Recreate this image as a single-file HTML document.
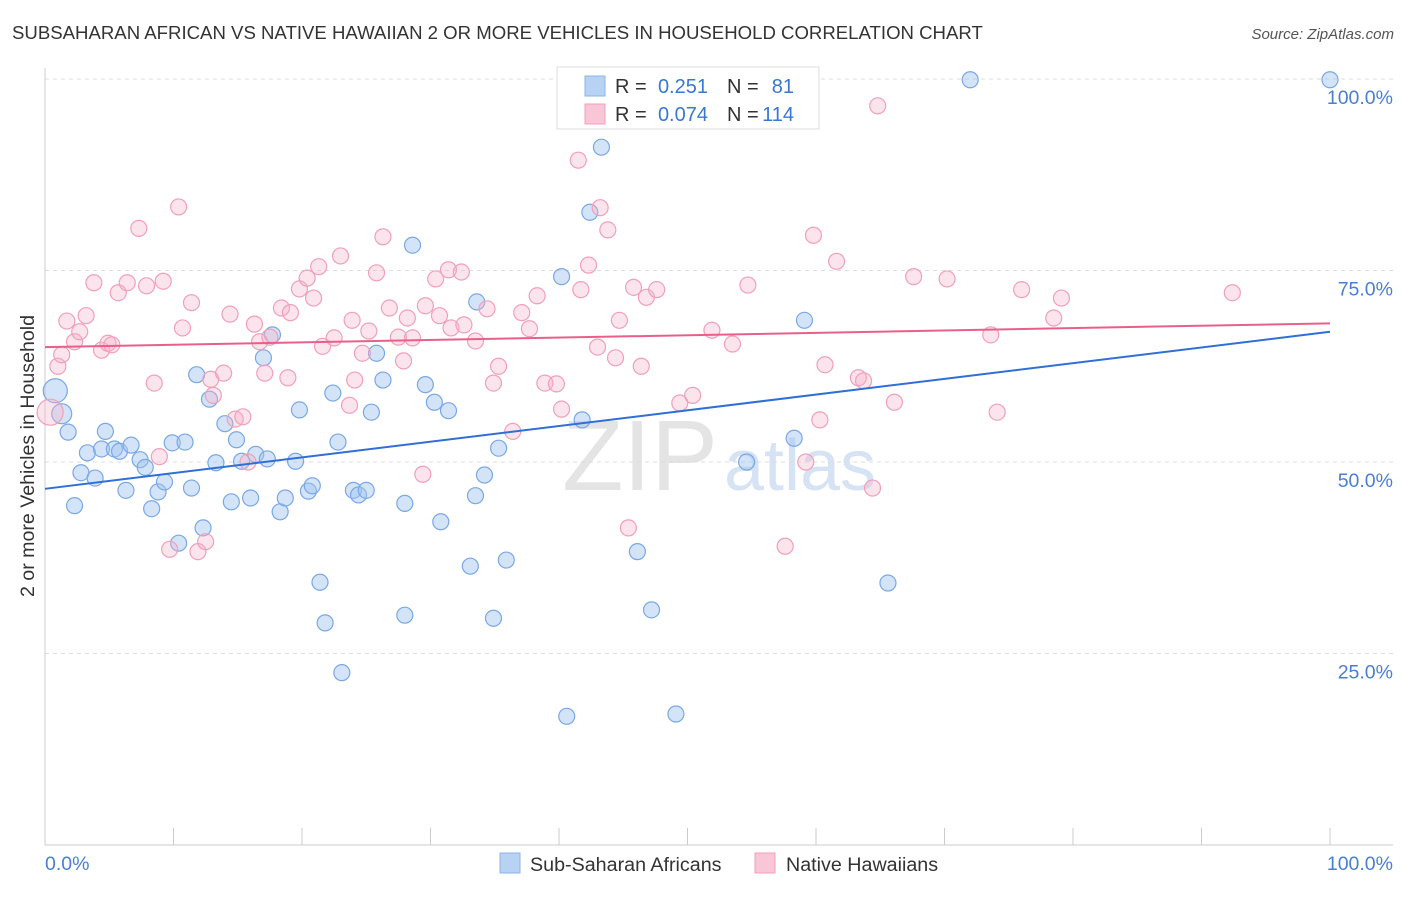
<!DOCTYPE html>
<html><head><meta charset="utf-8"><style>
body{margin:0;background:#fff;font-family:"Liberation Sans",sans-serif;}
svg text{font-family:"Liberation Sans",sans-serif;}
</style></head><body>
<svg id="chart" width="1406" height="892">
<text x="12" y="39" font-size="18.6" fill="#333">SUBSAHARAN AFRICAN VS NATIVE HAWAIIAN 2 OR MORE VEHICLES IN HOUSEHOLD CORRELATION CHART</text>
<text x="1394" y="39" font-size="15" fill="#555" font-style="italic" text-anchor="end">Source: ZipAtlas.com</text>
<text x="640" y="490" font-size="100" fill="#e4e4e4" font-family="Liberation Serif" text-anchor="middle">ZIP</text>
<text x="800" y="490" font-size="72" fill="#d6e3f4" text-anchor="middle">atlas</text>
<g id="grid"></g><g id="axes"></g><g id="pts"></g><g id="lines"></g>
<text transform="translate(34,456) rotate(-90)" font-size="19.6" fill="#333" text-anchor="middle">2 or more Vehicles in Household</text>
<text x="45" y="870" font-size="19.5" fill="#4a7fd0">0.0%</text>
<text x="1393" y="870" font-size="19.5" fill="#4a7fd0" text-anchor="end">100.0%</text>
<g>
<rect x="557" y="67" width="262" height="62" fill="#fff" stroke="#ddd"/>
<rect x="585" y="76" width="20" height="20" fill="#b8d2f4" stroke="#8ab4e8"/>
<rect x="585" y="104" width="20" height="20" fill="#f8c6d6" stroke="#f0a0b8"/>
<text y="93" font-size="20" fill="#333"><tspan x="615">R =</tspan><tspan x="708" text-anchor="end" fill="#3a78d0">0.251</tspan><tspan x="727">N =</tspan><tspan x="794" text-anchor="end" fill="#3a78d0">81</tspan></text>
<text y="121" font-size="20" fill="#333"><tspan x="615">R =</tspan><tspan x="708" text-anchor="end" fill="#3a78d0">0.074</tspan><tspan x="727">N =</tspan><tspan x="794" text-anchor="end" fill="#3a78d0">114</tspan></text>
</g>
<g>
<rect x="500" y="853" width="20" height="20" fill="#b8d2f4" stroke="#8ab4e8"/>
<text x="530" y="871" font-size="19.7" fill="#333">Sub-Saharan Africans</text>
<rect x="755" y="853" width="20" height="20" fill="#f8c6d6" stroke="#f0a0b8"/>
<text x="786" y="871" font-size="19.7" fill="#333">Native Hawaiians</text>
</g>
</svg>
<script>
const yTicks=[25,50,75,100];
const xTicks=[0,10,20,30,40,50,60,70,80,90,100];
const blueX=[0.8,1.3,1.8,2.3,2.8,3.3,3.9,4.4,4.7,5.4,5.8,6.3,6.7,7.4,7.8,8.3,8.8,9.3,9.9,10.4,10.9,11.4,11.8,12.3,12.8,13.3,14.0,14.5,14.9,15.3,16.0,16.4,17.0,17.3,17.7,18.3,18.7,19.5,19.8,20.5,20.8,21.4,21.8,22.4,22.8,23.1,24.0,24.4,25.0,25.4,25.8,26.3,28.0,28.0,28.6,29.6,30.3,30.8,31.4,33.1,33.5,33.6,34.2,34.9,35.3,35.9,40.2,40.6,41.8,42.4,43.3,46.1,47.2,49.1,54.6,58.3,59.1,65.6,72.0,100];
const blueY=[59.3,56.3,53.9,44.3,48.6,51.2,47.9,51.7,54.0,51.7,51.4,46.3,52.2,50.3,49.3,43.9,46.1,47.4,52.5,39.4,52.6,46.6,61.4,41.4,58.2,49.9,55.0,44.8,52.9,50.1,45.3,51.0,63.6,50.4,66.6,43.5,45.3,50.1,56.8,46.2,46.9,34.3,29.0,59.0,52.6,22.5,46.3,45.7,46.3,56.5,64.2,60.7,44.6,30.0,78.3,60.1,57.8,42.2,56.7,36.4,45.6,70.9,48.3,29.6,51.8,37.2,74.2,16.8,55.5,82.6,91.1,38.3,30.7,17.1,50.0,53.1,68.5,34.2,99.9,99.9];
const pinkX=[0.4,1.0,1.3,1.7,2.3,2.7,3.2,3.8,4.4,4.9,5.2,5.7,6.4,7.3,7.9,8.5,8.9,9.2,9.7,10.4,10.7,11.4,11.9,12.5,12.9,13.1,13.9,14.4,14.8,15.4,15.8,16.3,16.7,17.1,17.5,18.4,18.9,19.1,19.8,20.4,20.9,21.3,21.6,22.5,23.0,23.7,23.9,24.1,24.7,25.2,25.8,26.3,26.8,27.5,27.9,28.2,28.6,29.4,29.6,30.4,30.7,31.4,31.6,32.4,32.6,33.5,34.4,34.9,35.3,36.4,37.1,37.7,38.3,38.9,39.8,40.2,41.5,41.7,42.3,43.0,43.2,43.8,44.4,44.7,45.4,45.8,46.4,46.8,47.6,49.4,50.4,51.9,53.5,54.7,57.6,59.2,59.8,60.3,60.7,61.6,63.3,63.7,64.4,64.8,66.1,67.6,70.2,73.6,74.1,76.0,78.5,79.1,92.4];
const pinkY=[56.5,62.5,64.0,68.4,65.7,67.0,69.1,73.4,64.6,65.5,65.3,72.1,73.4,80.5,73.0,60.3,50.7,73.6,38.6,83.3,67.5,70.8,38.3,39.6,60.8,58.7,61.6,69.3,55.6,55.9,50.0,68.0,65.7,61.6,66.3,70.1,61.0,69.5,72.6,74.0,71.4,75.5,65.1,66.2,76.9,57.4,68.5,60.7,64.2,67.1,74.7,79.4,70.1,66.3,63.2,68.8,66.2,48.4,70.4,73.9,69.1,75.1,67.5,74.8,67.9,65.8,70.0,60.3,62.5,54.0,69.5,67.4,71.7,60.3,60.2,56.9,89.4,72.5,75.7,65.0,83.2,80.3,63.6,68.5,41.4,72.8,62.5,71.5,72.5,57.7,58.7,67.2,65.4,73.1,39.0,50.0,79.6,55.5,62.7,76.2,61.0,60.6,46.6,96.5,57.8,74.2,73.9,66.6,56.5,72.5,68.8,71.4,72.1];
const blueTrend=[46.5,67.0];
const pinkTrend=[65.0,68.1];
const NS="http://www.w3.org/2000/svg";
const sx=v=>45+v*12.85, sy=v=>845-v*7.66;
function mk(tag,attrs,parent){const e=document.createElementNS(NS,tag);for(const k in attrs)e.setAttribute(k,attrs[k]);document.getElementById(parent).appendChild(e);return e;}
yTicks.forEach(t=>{
  const l=mk('line',{x1:45,x2:1393,y1:sy(t),y2:sy(t),stroke:'#ddd','stroke-dasharray':'4,4'},'grid');
  
  
  const tx=mk('text',{x:1393,y:sy(t)+25,'font-size':19.5,fill:'#4a7fd0','text-anchor':'end'},'grid');
  tx.textContent=t.toFixed(1)+'%';
  
  
});
const ax=mk('line',{x1:45,x2:45,y1:68,y2:845,stroke:'#ccc'},'axes');


const bx=mk('line',{x1:45,x2:1393,y1:845,y2:845,stroke:'#ccc'},'axes');


xTicks.forEach(t=>{
  const l=mk('line',{x1:sx(t),x2:sx(t),y1:828,y2:845,stroke:'#ccc'},'axes');
  
  
});
blueX.forEach((x,i)=>{
  const c=mk('circle',{cx:sx(x),cy:sy(blueY[i]),r:i<2?(i==0?12:10):8,fill:'rgba(160,196,240,0.45)',stroke:'#7aa8e4','stroke-width':1.2},'pts');
  
  
});
pinkX.forEach((x,i)=>{
  const c=mk('circle',{cx:sx(x),cy:sy(pinkY[i]),r:i==0?13:8,fill:'rgba(246,178,200,0.35)',stroke:'#f0a0ba','stroke-width':1.2},'pts');
  
  
});
const bl=mk('line',{x1:sx(0),y1:sy(blueTrend[0]),x2:sx(100),y2:sy(blueTrend[1]),stroke:'#2f6fd6','stroke-width':2},'lines');


const pl=mk('line',{x1:sx(0),y1:sy(pinkTrend[0]),x2:sx(100),y2:sy(pinkTrend[1]),stroke:'#e8608a','stroke-width':2},'lines');


</script>
</body></html>
